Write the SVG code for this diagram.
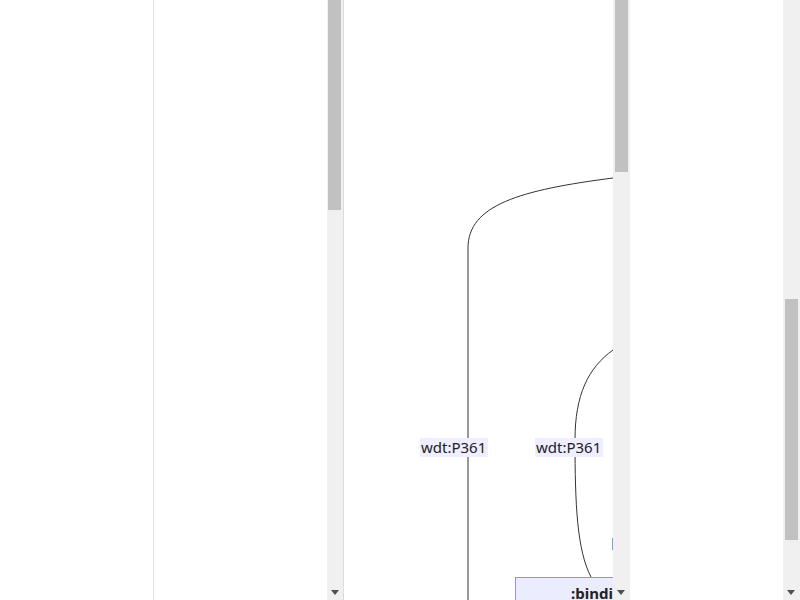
<svg xmlns="http://www.w3.org/2000/svg" width="800" height="600" viewBox="0 0 800 600">
<style>
.track{fill:#f0f0f0}
.thumb{fill:#c1c1c1}
.edge{fill:none;stroke:#333;stroke-width:1}
.lblbg{fill:#eeeeff}
.lbl{font-family:"Noto Sans","Open Sans",sans-serif;font-size:15px;fill:#222}
.arrow{fill:#505050}
</style>
<defs>
<clipPath id="pane"><rect x="345" y="0" width="268" height="600"/></clipPath>
</defs>
<rect width="800" height="600" fill="#fff"/>
<!-- left panel -->
<rect x="153" y="0" width="1" height="600" fill="#e2e2e2"/>
<rect class="track" x="327" y="0" width="16" height="600"/>
<rect class="thumb" x="328" y="0" width="13" height="210"/>
<rect x="343" y="0" width="1" height="600" fill="#dcdcdc"/>
<polygon class="arrow" points="331,590 339,590 335,595"/>
<!-- middle pane -->
<g clip-path="url(#pane)">
<g id="connectors">
<path class="edge" d="M 613 178 C 520 190, 468 205, 468 248 L 468 600"/>
<path class="edge" d="M 613 350 C 588 368, 575 395, 575 440 C 575 505, 577 550, 591 577"/>
</g>
<g id="label1">
<rect class="lblbg" x="420" y="438" width="68" height="19"/>
<text class="lbl" x="421" y="453">wdt:P361</text>
</g>
<g id="label2">
<rect class="lblbg" x="535" y="438" width="68" height="19"/>
<text class="lbl" x="536" y="453">wdt:P361</text>
</g>
<g id="label3">
<rect x="612" y="538" width="1" height="12" fill="#7a9ae8"/>
</g>
<g id="node-bindi">
<rect x="515.5" y="577.5" width="140" height="40" fill="#ececff" stroke="#9a8fd8"/>
<text class="lbl" x="571" y="599" font-weight="bold">:bindi</text>
</g>
</g>
<!-- middle scrollbar -->
<rect class="track" x="613" y="0" width="17" height="600"/>
<rect class="thumb" x="615" y="0" width="13" height="172"/>
<polygon class="arrow" points="617,590 625,590 621,595"/>
<!-- right scrollbar -->
<rect class="track" x="783" y="0" width="17" height="600"/>
<rect class="thumb" x="785" y="299" width="13" height="241"/>
<polygon class="arrow" points="787,590 795,590 791,595"/>
</svg>
